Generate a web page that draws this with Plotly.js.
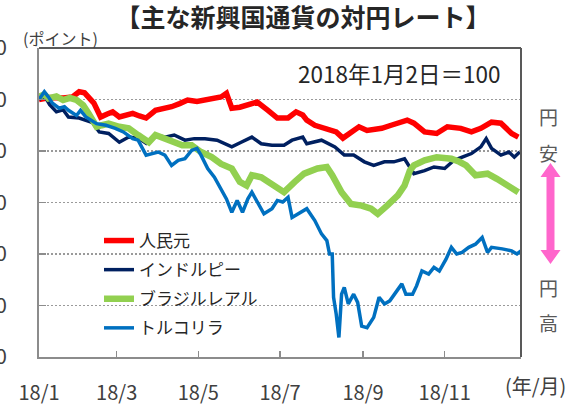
<!DOCTYPE html>
<html><head><meta charset="utf-8">
<script src="https://cdn.plot.ly/plotly-3.0.1.min.js"></script>
<style>html,body{margin:0;padding:0;background:#fff}#chart{width:585px;height:404px}</style>
</head><body><div id="chart"></div>
<script>
const seriesNames = ['人民元', 'インドルピー', 'ブラジルレアル', 'トルコリラ'];
const seriesColors = ['#FF0000', '#002060', '#92D050', '#0070C0'];

const cnyDates = ['2018-01-02','2018-01-10','2018-01-20','2018-01-27','2018-02-01','2018-02-05','2018-02-12','2018-02-17','2018-02-22','2018-02-26','2018-03-03','2018-03-08','2018-03-13','2018-03-18','2018-03-23','2018-03-30','2018-04-05','2018-04-11','2018-04-17','2018-04-23','2018-04-30','2018-05-06','2018-05-12','2018-05-18','2018-05-22','2018-05-26','2018-06-01','2018-06-07','2018-06-14','2018-06-22','2018-06-29','2018-07-07','2018-07-13','2018-07-18','2018-07-21','2018-07-27','2018-08-03','2018-08-12','2018-08-17','2018-08-23','2018-08-29','2018-09-04','2018-09-15','2018-09-22','2018-09-28','2018-10-04','2018-10-09','2018-10-17','2018-10-26','2018-11-03','2018-11-13','2018-11-21','2018-11-28','2018-12-06','2018-12-13','2018-12-21','2018-12-26'];
const cnyValues = [100.0,100.4,100.3,100.5,101.5,101.3,99.3,96.6,97.2,97.6,96.6,97.0,97.3,96.8,96.4,97.9,98.2,98.6,99.2,99.9,99.6,99.9,100.1,100.5,101.2,98.3,98.5,98.9,99.5,97.9,96.4,96.4,97.6,97.0,96.0,95.0,94.4,93.7,92.5,93.7,94.7,94.0,94.4,95.0,95.4,96.0,95.4,93.7,93.4,94.7,94.4,93.7,94.4,95.6,95.4,93.4,92.7];

const inrDates = ['2018-01-02','2018-01-06','2018-01-10','2018-01-15','2018-01-20','2018-01-24','2018-02-01','2018-02-06','2018-02-11','2018-02-16','2018-02-23','2018-03-03','2018-03-10','2018-03-17','2018-03-23','2018-03-29','2018-04-06','2018-04-13','2018-04-21','2018-04-28','2018-05-06','2018-05-15','2018-05-26','2018-06-02','2018-06-10','2018-06-17','2018-06-25','2018-07-04','2018-07-10','2018-07-18','2018-07-21','2018-08-01','2018-08-11','2018-08-18','2018-08-25','2018-09-02','2018-09-09','2018-09-17','2018-09-24','2018-10-02','2018-10-09','2018-10-17','2018-10-24','2018-11-01','2018-11-08','2018-11-16','2018-11-21','2018-11-28','2018-12-02','2018-12-06','2018-12-13','2018-12-19','2018-12-23','2018-12-27'];
const inrValues = [100.0,100.8,99.0,97.6,98.0,96.6,96.4,96.0,95.5,93.7,93.4,91.7,92.7,92.5,91.5,93.1,92.7,93.1,92.1,92.4,92.4,92.1,90.8,91.7,92.7,91.4,91.1,91.1,92.1,92.7,91.4,92.1,90.8,89.2,89.2,87.9,87.2,87.9,87.9,88.5,85.6,86.2,86.9,86.6,88.2,89.0,89.5,90.8,92.4,90.5,89.2,89.8,88.8,89.8];

const brlDates = ['2018-01-02','2018-01-06','2018-01-09','2018-01-15','2018-01-20','2018-01-25','2018-01-30','2018-02-04','2018-02-08','2018-02-14','2018-02-18','2018-02-23','2018-03-03','2018-03-10','2018-03-17','2018-03-25','2018-03-30','2018-04-04','2018-04-08','2018-04-13','2018-04-19','2018-04-26','2018-05-03','2018-05-11','2018-05-18','2018-05-26','2018-06-01','2018-06-06','2018-06-10','2018-06-17','2018-06-25','2018-06-29','2018-07-04','2018-07-12','2018-07-19','2018-07-29','2018-08-05','2018-08-09','2018-08-16','2018-08-23','2018-08-31','2018-09-07','2018-09-12','2018-09-19','2018-09-27','2018-10-02','2018-10-06','2018-10-09','2018-10-17','2018-10-26','2018-11-06','2018-11-12','2018-11-17','2018-11-24','2018-12-03','2018-12-10','2018-12-17','2018-12-26'];
const brlValues = [100.5,101.0,100.2,100.6,99.9,100.3,99.9,98.9,97.3,94.7,95.0,95.3,94.7,94.4,93.1,91.7,93.1,92.6,92.1,91.9,91.1,91.1,89.8,88.8,87.5,86.6,84.0,83.3,85.3,84.9,83.6,82.7,82.0,84.0,85.6,86.6,86.9,85.3,82.0,79.7,79.4,78.8,77.8,79.4,81.4,83.3,86.2,87.2,88.2,88.8,88.5,87.9,87.2,85.3,85.6,84.6,83.3,82.0];

const tryDates = ['2018-01-02','2018-01-06','2018-01-09','2018-01-12','2018-01-17','2018-01-21','2018-01-24','2018-01-30','2018-02-02','2018-02-06','2018-02-14','2018-02-21','2018-02-28','2018-03-06','2018-03-13','2018-03-17','2018-03-23','2018-03-28','2018-04-01','2018-04-06','2018-04-11','2018-04-16','2018-04-21','2018-04-26','2018-04-30','2018-05-03','2018-05-08','2018-05-13','2018-05-18','2018-05-22','2018-05-26','2018-05-30','2018-06-03','2018-06-07','2018-06-10','2018-06-14','2018-06-19','2018-06-25','2018-06-29','2018-07-03','2018-07-07','2018-07-10','2018-07-16','2018-07-21','2018-07-27','2018-08-01','2018-08-05','2018-08-07','2018-08-09','2018-08-10','2018-08-12','2018-08-14','2018-08-16','2018-08-18','2018-08-21','2018-08-25','2018-08-28','2018-08-31','2018-09-04','2018-09-09','2018-09-13','2018-09-17','2018-09-21','2018-09-26','2018-09-30','2018-10-03','2018-10-08','2018-10-11','2018-10-15','2018-10-20','2018-10-24','2018-10-28','2018-11-02','2018-11-06','2018-11-10','2018-11-14','2018-11-19','2018-11-24','2018-11-29','2018-12-03','2018-12-06','2018-12-14','2018-12-21','2018-12-25','2018-12-28'];
const tryValues = [100.0,101.5,100.5,99.3,98.3,98.6,97.9,96.9,97.9,96.6,95.3,95.0,94.4,93.7,92.4,92.1,89.2,89.5,89.8,89.2,87.2,88.2,88.5,90.1,90.5,89.2,86.6,84.9,82.7,80.7,78.1,80.4,78.1,80.7,82.0,80.1,77.8,78.8,80.4,80.1,81.0,77.1,78.1,78.8,76.5,73.9,72.6,70.0,70.0,61.6,58.3,53.8,62.2,63.5,60.3,62.2,60.6,56.0,55.7,57.7,61.6,60.3,60.9,62.9,64.2,62.2,62.2,63.8,66.7,66.1,67.4,66.7,69.0,71.3,70.0,70.3,71.3,71.9,73.2,70.3,71.3,71.0,70.6,70.0,70.6];

const xTickVals = ['2018-01-02','2018-03-01','2018-05-01','2018-07-01','2018-09-01','2018-11-01'];
const xTickText = ['18/1','18/3','18/5','18/7','18/9','18/11'];
const yTickVals = [50, 60, 70, 80, 90, 100, 110];

const F = '"Noto Sans CJK JP", "Noto Sans", sans-serif';
const allDates = [cnyDates, inrDates, brlDates, tryDates];
const allValues = [cnyValues, inrValues, brlValues, tryValues];
const widths = [5.5, 3.5, 6.5, 3.5];

const traces = seriesNames.map((n, i) => ({
  type: 'scatter', mode: 'lines', name: n,
  x: allDates[i], y: allValues[i],
  line: {color: seriesColors[i], width: widths[i]},
  legendgroup: 'g' + i
}));

// paper coordinate helpers for decorations (plot area 39..521 x 48..357)
const px = v => (v - 39) / 482;
const py = v => (357 - v) / 309;

const arrowPts = [[550.5,163],[560.5,177],[554.5,177],[554.5,250],[560.5,250],[550.5,264],[540.5,250],[546.5,250],[546.5,177],[540.5,177]];
const arrowPath = 'M' + arrowPts.map(p => px(p[0]).toFixed(4) + ',' + py(p[1]).toFixed(4)).join(' L') + ' Z';

const ann = (text, x, y, size, color, extra) => Object.assign({
  text, xref: 'paper', yref: 'paper', x: px(x), y: py(y), showarrow: false,
  xanchor: 'center', yanchor: 'middle', font: {family: F, size, color}
}, extra || {});

const layout = {
  width: 585, height: 404,
  margin: {l: 39, r: 64, t: 48, b: 47},
  paper_bgcolor: '#fff', plot_bgcolor: '#fff',
  showlegend: true,
  title: {text: '<b>【主な新興国通貨の対円レート】</b>', x: 303/585, xref: 'container', xanchor: 'center', y: 1 - 18/404, yref: 'container', yanchor: 'middle', font: {family: F, size: 25, color: '#262626'}},
  xaxis: {
    type: 'date', range: ['2018-01-02', '2018-12-28'],
    tickvals: xTickVals, ticktext: xTickText, ticks: 'inside', ticklen: 6, tickwidth: 1.5, tickcolor: '#8c8c8c',
    showline: true, linecolor: '#8c8c8c', linewidth: 2, showgrid: false, zeroline: false,
    tickfont: {family: F, size: 20, color: '#404040'}, ticklabelstandoff: 17
  },
  yaxis: {
    range: [50, 110], tickvals: yTickVals, ticks: 'inside', ticklen: 7, tickwidth: 1.5, tickcolor: '#8c8c8c',
    showline: true, linecolor: '#8c8c8c', linewidth: 2, zeroline: false,
    showgrid: true, gridcolor: '#9a9a9a', gridwidth: 1.5, griddash: '2px,2px',
    tickfont: {family: F, size: 21, color: '#404040'}, ticklabelstandoff: 26
  },
  legend: {x: px(99), y: py(223), xanchor: 'left', yanchor: 'top', bgcolor: 'rgba(0,0,0,0)',
    font: {family: F, size: 17, color: '#262626'}, tracegroupgap: 4},
  shapes: [
    {type: 'line', xref: 'paper', yref: 'paper', x0: 0, x1: 1, y0: 1, y1: 1, line: {color: '#595959', width: 2}},
    {type: 'line', xref: 'paper', yref: 'paper', x0: 1, x1: 1, y0: 0, y1: 1, line: {color: '#595959', width: 2}},
    {type: 'path', xref: 'paper', yref: 'paper', path: arrowPath, fillcolor: '#FF66CC', line: {width: 0}}
  ],
  annotations: [
    ann('(ポイント)', 60, 38, 16, '#404040'),
    ann('2018年1月2日＝100', 399, 73, 22.5, '#262626'),
    ann('円', 548.5, 116, 19, '#595959'),
    ann('安', 548.5, 152, 19, '#595959'),
    ann('円', 548.5, 287, 19, '#595959'),
    ann('高', 548.5, 322, 19, '#595959'),
    ann('(年/月)', 535, 385, 20, '#404040')
  ]
};

Plotly.newPlot('chart', traces, layout, {staticPlot: true, displayModeBar: false});
</script>
</body></html>
